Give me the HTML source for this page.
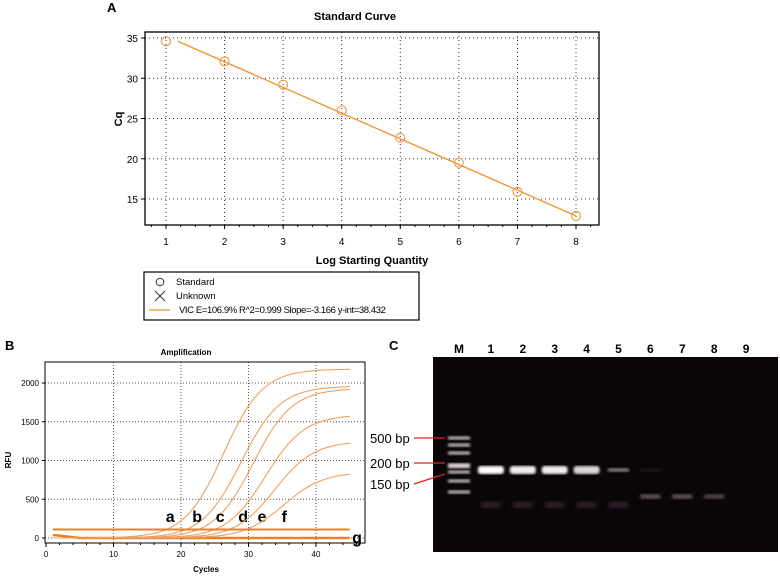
<!DOCTYPE html>
<html><head><meta charset="utf-8">
<style>
body{margin:0;background:#fff;width:780px;height:578px;overflow:hidden;font-family:"Liberation Sans",Arial,sans-serif}
svg text{font-family:"Liberation Sans",Arial,sans-serif}
</style></head>
<body>
<svg id="fig" width="780" height="578" viewBox="0 0 780 578" xmlns="http://www.w3.org/2000/svg">
<g id="A"></g>
<g id="B"></g>
<g id="C"></g>
</svg>
<script>
// ---- Panel A data ----
const stdX=[1,2,3,4,5,6,7,8];
const stdCq=[34.6,32.1,29.2,26.0,22.6,19.5,15.9,12.9];
const fitX=[1.2,8];
const fitCq=[34.6,12.9];
const aXTicks=[1,2,3,4,5,6,7,8];
const aYTicks=[15,20,25,30,35];
// ---- Panel B data ----
const curveMid=[26.3,28.9,30.7,32.5,33.9,35.2];
const curvePlateau=[2180,1960,1930,1590,1250,850];
const curveSlope=[2.9,2.9,2.9,2.9,2.9,2.9];
const threshold=[110];
const curveLabels=['a','b','c','d','e','f'];
const curveLabelCycle=[18.4,22.4,25.8,29.2,32.0,35.3];
const bXTicks=[0,10,20,30,40];
const bYTicks=[0,500,1000,1500,2000];
// ---- Panel C data ----
const lanes=['M','1','2','3','4','5','6','7','8','9'];
const bandIntensity=[0,1,0.95,0.95,0.85,0.45,0.06,0,0,0];
const lowBandIntensity=[0,0,0,0,0,0,0.3,0.3,0.25,0];
const markerSizes=['500 bp','200 bp','150 bp'];

const NS='http://www.w3.org/2000/svg';
function el(p,t,a,txt){const e=document.createElementNS(NS,t);for(const k in a)e.setAttribute(k,a[k]);if(txt!==undefined)e.textContent=txt;p.appendChild(e);return e;}

// ===== Panel A =====
(function(){
const g=document.getElementById('A');
const L=145,R=599,T=32,B=225;
const ax=v=>166+(v-1)*(576-166)/7;
const ay=v=>38+(35-v)*(199-38)/20;
let t=el(g,'text',{x:107,y:12,'font-size':13,'font-weight':'bold'},'A');

t=el(g,'text',{x:355,y:20,'font-size':11,'font-weight':'bold','text-anchor':'middle'},'Standard Curve');

aXTicks.forEach(v=>{const x=ax(v);
 let gl=el(g,'line',{x1:x,y1:T,x2:x,y2:B,stroke:'#333','stroke-dasharray':'1 3','stroke-width':1});
 
 el(g,'line',{x1:x,y1:B,x2:x,y2:B+4,stroke:'#000'});
 let tl=el(g,'text',{x:x,y:B+20,'font-size':10,'text-anchor':'middle'},String(v));
 
});
for(let v=0.5;v<=8.5;v+=0.25){const x=ax(v);if(x>L&&x<R)el(g,'line',{x1:x,y1:B,x2:x,y2:B+2,stroke:'#000'});}
aYTicks.forEach(v=>{const y=ay(v);
 let gl=el(g,'line',{x1:L,y1:y,x2:R,y2:y,stroke:'#333','stroke-dasharray':'1 3'});
 
 el(g,'line',{x1:L-4,y1:y,x2:L,y2:y,stroke:'#000'});
 let tl=el(g,'text',{x:L-7,y:y+4,'font-size':10,'text-anchor':'end'},String(v));
 
});
let fr=el(g,'rect',{x:L,y:T,width:R-L,height:B-T,fill:'none',stroke:'#000','stroke-width':1.3});

let fl=el(g,'line',{x1:ax(fitX[0]),y1:ay(fitCq[0]),x2:ax(fitX[1]),y2:ay(fitCq[1]),stroke:'#f0922e','stroke-width':1.3});

stdX.forEach((x,i)=>{
 const c=el(g,'circle',{cx:ax(x),cy:ay(stdCq[i]),r:4.5,fill:'none',stroke:'#f0a050','stroke-width':1.2});
 
 
});
t=el(g,'text',{x:9,y:0,'font-size':11,'font-weight':'bold','text-anchor':'middle',transform:'translate(122,128) rotate(-90)'},'Cq');

t=el(g,'text',{x:372,y:264,'font-size':11,'font-weight':'bold','text-anchor':'middle'},'Log Starting Quantity');

const lg=el(g,'g',{});
el(lg,'rect',{x:144,y:272,width:275,height:48,fill:'#fff',stroke:'#000','stroke-width':1.2});
el(lg,'circle',{cx:160,cy:282,r:3.8,fill:'none',stroke:'#333'});
let e1=el(lg,'text',{x:176,y:285,'font-size':9.5},'Standard');
el(lg,'path',{d:'M155,291 L165,301 M165,291 L155,301',stroke:'#333','fill':'none'});
let e2=el(lg,'text',{x:176,y:299,'font-size':9.5},'Unknown');
el(lg,'line',{x1:149,y1:310,x2:170,y2:310,stroke:'#f0922e','stroke-width':1.3});
let e3=el(lg,'text',{x:179,y:313,'font-size':9.5,'letter-spacing':'-0.4'},'VIC    E=106.9% R^2=0.999 Slope=-3.166 y-int=38.432');

})();

// ===== Panel B =====
(function(){
const g=document.getElementById('B');
const L=45,R=365,T=362,B=543;
const bx=v=>46+v*(316-46)/40;
const by=v=>538-v*(538-383)/2000;
let t=el(g,'text',{x:5,y:350,'font-size':13,'font-weight':'bold'},'B');

t=el(g,'text',{x:186,y:355,'font-size':8,'font-weight':'bold','text-anchor':'middle'},'Amplification');

bXTicks.forEach(v=>{const x=bx(v);
 if(v>0){let gl=el(g,'line',{x1:x,y1:T,x2:x,y2:B,stroke:'#555','stroke-dasharray':'1 2'});}
 el(g,'line',{x1:x,y1:B,x2:x,y2:B+4,stroke:'#000'});
 let tl=el(g,'text',{x:x,y:B+14,'font-size':8,'text-anchor':'middle'},String(v));
 
});
for(let v=2;v<=46;v+=2){el(g,'line',{x1:bx(v),y1:B,x2:bx(v),y2:B+2,stroke:'#000'});}
bYTicks.forEach(v=>{const y=by(v);
 let gl=el(g,'line',{x1:L,y1:y,x2:R,y2:y,stroke:'#555','stroke-dasharray':'1 2'});
 
 el(g,'line',{x1:L-3,y1:y,x2:L,y2:y,stroke:'#000'});
 let tl=el(g,'text',{x:L-6,y:y+3,'font-size':8,'text-anchor':'end'},String(v));
 
});
let fr=el(g,'rect',{x:L,y:T,width:R-L,height:B-T,fill:'none',stroke:'#000','stroke-width':1});

let bl=el(g,'path',{d:`M${bx(1)},${by(40)} Q${bx(3)},${by(20)} ${bx(5)},${by(0)} L${bx(45)},${by(0)}`,stroke:'#e8802a','stroke-width':2.5,fill:'none'});

curveMid.forEach((m,i)=>{
 const base=curvePlateau[i]/(1+Math.exp(-(1-m)/curveSlope[i]));
 let d='';for(let c=1;c<=45;c+=0.5){const v=curvePlateau[i]/(1+Math.exp(-(c-m)/curveSlope[i]))-base;d+=(d?'L':'M')+bx(c).toFixed(1)+','+by(v).toFixed(1);}
 const p=el(g,'path',{d:d,fill:'none',stroke:'#f0a060','stroke-width':1.1});
 
 
 const lb=el(g,'text',{x:bx(curveLabelCycle[i]),y:522,'font-size':16,'font-weight':'bold','text-anchor':'middle'},curveLabels[i]);
 
 
});
let th=el(g,'line',{x1:bx(1),y1:by(threshold[0]),x2:bx(45),y2:by(threshold[0]),stroke:'#e8802a','stroke-width':2});

t=el(g,'text',{x:357,y:543,'font-size':16,'font-weight':'bold','text-anchor':'middle'},'g');

t=el(g,'text',{x:0,y:0,'font-size':8,'font-weight':'bold','text-anchor':'middle',transform:'translate(11,460) rotate(-90)'},'RFU');

t=el(g,'text',{x:206,y:572,'font-size':8,'font-weight':'bold','text-anchor':'middle'},'Cycles');

})();

// ===== Panel C =====
(function(){
const g=document.getElementById('C');
const defs=el(g,'defs',{});
const f=el(defs,'filter',{id:'blur'});el(f,'feGaussianBlur',{stdDeviation:1.2});
const f2=el(defs,'filter',{id:'blur2'});el(f2,'feGaussianBlur',{stdDeviation:2.5});
let t=el(g,'text',{x:389,y:350,'font-size':13,'font-weight':'bold'},'C');

let gel=el(g,'rect',{x:433,y:357,width:345,height:195,fill:'#0a0508'});

const laneX=i=>459+i*31.9;
lanes.forEach((l,i)=>{
 const x=laneX(i);
 const lt=el(g,'text',{x:x,y:353,'font-size':12,'font-weight':'bold','text-anchor':'middle'},l);
 
 
 if(i===0){
  [438,445,453,465,472,481,492].forEach((y,j)=>{
   const b=el(g,'rect',{x:x-11,y:y-1.8,width:22,height:(j===3?5:3.6),fill:'#e8dde0',opacity:j===3?0.95:0.75,filter:'url(#blur)'});
   
   
  });
  return;
 }
 const s=bandIntensity[i];
 if(s>0){
  const w=s>0.7?26:22,h=s>0.7?8:4;
  const b=el(g,'rect',{x:x-w/2,y:470-h/2,width:w,height:h,rx:3,fill:'#fffafc',opacity:s,filter:'url(#blur)'});
  
  
 }
 if(i<=5){const d=el(g,'rect',{x:x-10,y:502,width:20,height:6,fill:'#503040',opacity:0.6,filter:'url(#blur2)'});
  }
 const lo=lowBandIntensity[i];
 if(lo>0){const d=el(g,'rect',{x:x-10,y:494,width:20,height:5,fill:'#b09098',opacity:lo*1.6,filter:'url(#blur)'});
  }
});
const my=[438,463,484], mend=[438,463,474];
markerSizes.forEach((m,i)=>{
 const tl=el(g,'text',{x:370,y:my[i]+5,'font-size':13},m);
 
 
 const ln=el(g,'line',{x1:414,y1:my[i],x2:445,y2:mend[i],stroke:'#e02020','stroke-width':1.3});
 
 
});
})();
</script>
</body></html>
